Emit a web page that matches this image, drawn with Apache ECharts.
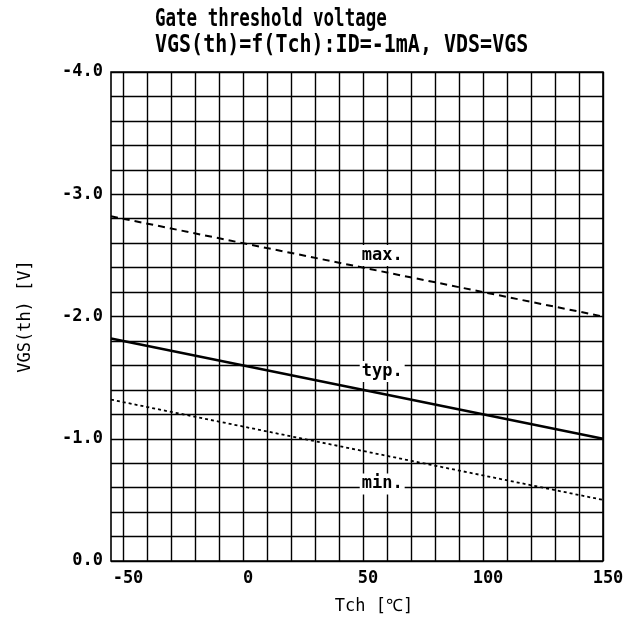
<!DOCTYPE html>
<html><head><meta charset="utf-8">
<script src="https://cdn.jsdelivr.net/npm/echarts@6/dist/echarts.min.js"></script>
<style>html,body{margin:0;padding:0;background:#fff}#c{width:634px;height:619px}</style>
</head><body><div id="c"></div>
<script>
// ---- data ----
const titleLines = ['Gate threshold voltage', 'VGS(th)=f(Tch):ID=-1mA, VDS=VGS'];
const xAxisName = 'Tch [℃]';
const yAxisName = 'VGS(th) [V]';
const tempPoints = [-55, 150];
const vgsMax = [-2.82, -2.0];
const vgsTyp = [-1.82, -1.0];
const vgsMin = [-1.32, -0.5];
const curveNames = ['max.', 'typ.', 'min.'];
const labelTemp = 58;
const labelValues = [-2.5, -1.55, -0.63];
const xTickValues = [-50, -40, -30, -20, -10, 0, 10, 20, 30, 40, 50, 60, 70, 80, 90, 100, 110, 120, 130, 140, 150];
const xLabelValues = [-50, 0, 50, 100, 150];
const yLabelValues = [-4, -3, -2, -1, 0];

// ---- chart ----
const MONO = '"DejaVu Sans Mono", monospace';
const chart = echarts.init(document.getElementById('c'), null, {renderer: 'canvas'});

function curve(name, vals, lineStyle, k) {
  return {
    name: name, type: 'line', symbol: 'none', silent: true,
    data: tempPoints.map((t, i) => [t, vals[i]]),
    lineStyle: Object.assign({color: '#000'}, lineStyle),
    markPoint: {
      symbol: 'rect', symbolSize: [1, 1], silent: true,
      itemStyle: {color: 'rgba(0,0,0,0)'},
      label: {
        show: true, position: 'inside', color: '#000',
        fontFamily: MONO, fontSize: 17, fontWeight: 'bold',
        backgroundColor: '#fff', padding: [2, 2],
        formatter: () => curveNames[k]
      },
      data: [{coord: [labelTemp, labelValues[k]]}]
    }
  };
}

chart.setOption({
  animation: false,
  backgroundColor: '#fff',
  grid: {left: 111, right: 31, top: 72, bottom: 58, show: true,
         borderColor: '#000', borderWidth: 1.6, outerBoundsMode: 'none'},
  graphic: [
    {type: 'text', x: 155, y: 19, scaleX: 0.70,
     style: {text: titleLines[0], font: 'bold 25px ' + MONO, fill: '#000', verticalAlign: 'middle'}},
    {type: 'text', x: 155, y: 45, scaleX: 0.80,
     style: {text: titleLines[1], font: 'bold 25px ' + MONO, fill: '#000', verticalAlign: 'middle'}}
  ],
  xAxis: {
    type: 'value', min: -55, max: 150,
    name: xAxisName, nameLocation: 'middle', nameGap: 37,
    nameTextStyle: {fontFamily: MONO, fontSize: 17, color: '#000', padding: [0, 0, 0, 34]},
    axisLine: {show: false},
    axisTick: {show: false, customValues: xTickValues},
    axisLabel: {customValues: xLabelValues, fontFamily: MONO, fontSize: 17, fontWeight: 'bold', color: '#000',
                margin: 9, padding: [0, 0, 0, 10], formatter: v => String(v)},
    splitLine: {show: true, lineStyle: {color: '#000', width: 1.4}}
  },
  yAxis: {
    type: 'value', inverse: true, min: -4, max: 0, interval: 0.2,
    name: yAxisName, nameLocation: 'middle', nameGap: 77, nameRotate: 90,
    nameTextStyle: {fontFamily: MONO, fontSize: 17, color: '#000'},
    axisLine: {show: false},
    axisTick: {show: false},
    axisLabel: {customValues: yLabelValues, fontFamily: MONO, fontSize: 17, fontWeight: 'bold', color: '#000',
                margin: 8, formatter: v => v.toFixed(1)},
    splitLine: {show: true, lineStyle: {color: '#000', width: 1.4}}
  },
  series: [
    curve('max.', vgsMax, {type: [7, 5], width: 2}, 0),
    curve('typ.', vgsTyp, {type: 'solid', width: 2.4}, 1),
    curve('min.', vgsMin, {type: [3, 3], width: 1.8}, 2)
  ]
});
</script>
</body></html>
